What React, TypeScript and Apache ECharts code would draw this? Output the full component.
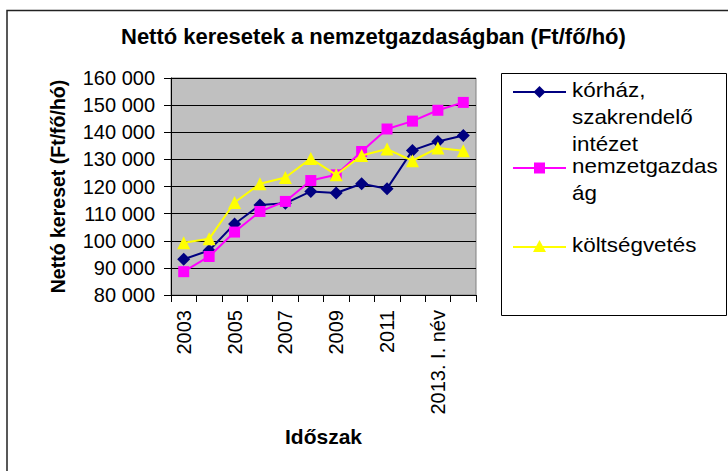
import React, { useEffect, useRef } from "react";
import * as echarts from "echarts";

const categories = ["2003", "2004", "2005", "2006", "2007", "2008", "2009", "2010", "2011", "2012", "2013. I. név", "2013. II. név"];
const korhaz = [93200, 96400, 106200, 113200, 113800, 118200, 117600, 121000, 119200, 133300, 136600, 138800];
const nemzetgazdasag = [88600, 94200, 103200, 110800, 114500, 122200, 124300, 132900, 141200, 144100, 148100, 151000];
const koltsegvetes = [99300, 100700, 114100, 121000, 123300, 130300, 124300, 131400, 133800, 129500, 134200, 133200];
const seriesNames = ["kórház, szakrendelő intézet", "nemzetgazdaság", "költségvetés"];
const legendLines = [["kórház,", "szakrendelő", "intézet"], ["nemzetgazdas", "ág"], ["költségvetés"]];

const FONT = "'Liberation Sans', Arial, sans-serif";

export default function App() {
  const ref = useRef<HTMLDivElement>(null);
  useEffect(() => {
    if (!ref.current) return;
    const chart = echarts.init(ref.current, null, { renderer: "svg" });
    const colors = ["#000080", "#FF00FF", "#FFFF00"];
    const symbols = ["diamond", "rect", "triangle"];
    const sizes = [13, 11, 13];
    const datas = [korhaz, nemzetgazdasag, koltsegvetes];

    const legendTop = [92, 168, 247];
    const legendGraphics: any[] = [
      {
        type: "rect",
        shape: { x: 501.5, y: 73.5, width: 225, height: 242 },
        style: { fill: "#fff", stroke: "#000", lineWidth: 1 },
        z: 10,
      },
    ];
    legendTop.forEach((y, i) => {
      legendGraphics.push({
        type: "line",
        shape: { x1: 513, y1: y, x2: 566, y2: y },
        style: { stroke: colors[i], lineWidth: 2 },
        z: 11,
      });
      if (i === 0) {
        legendGraphics.push({
          type: "polygon",
          shape: { points: [[539.5, y - 6], [545.5, y], [539.5, y + 6], [533.5, y]] },
          style: { fill: colors[i] },
          z: 12,
        });
      } else if (i === 1) {
        legendGraphics.push({
          type: "rect",
          shape: { x: 534, y: y - 5.5, width: 11, height: 11 },
          style: { fill: colors[i] },
          z: 12,
        });
      } else {
        legendGraphics.push({
          type: "polygon",
          shape: { points: [[539.5, y - 7], [546, y + 5], [533, y + 5]] },
          style: { fill: colors[i] },
          z: 12,
        });
      }
      legendLines[i].forEach((t, k) => {
        legendGraphics.push({
          type: "text",
          x: 572,
          y: y - 2 + k * 27,
          scaleX: 1.12,
          style: {
            text: t,
            fill: "#000",
            font: `20px ${FONT}`,
            verticalAlign: "middle",
            align: "left",
          },
          z: 12,
        });
      });
    });

    chart.setOption({
      animation: false,
      backgroundColor: "#fff",
      textStyle: { fontFamily: FONT },
      title: {
        text: "Nettó keresetek a nemzetgazdaságban (Ft/fő/hó)",
        left: 121,
        top: 25,
        padding: 0,
        textStyle: { fontFamily: FONT, fontSize: 22, fontWeight: "bold", color: "#000" },
      },
      grid: {
        left: 171,
        right: 252,
        top: 78,
        bottom: 176,
        show: true,
        backgroundColor: "#C0C0C0",
        borderColor: "#808080",
        borderWidth: 1,
      },
      xAxis: {
        type: "category",
        data: categories,
        boundaryGap: true,
        name: "Időszak",
        nameLocation: "middle",
        nameGap: 131,
        nameTextStyle: { fontFamily: FONT, fontSize: 21, fontWeight: "bold", color: "#000" },
        axisLine: { lineStyle: { color: "#000", width: 1 } },
        axisTick: { show: true, interval: 0, length: 7, lineStyle: { color: "#000" } },
        axisLabel: {
          interval: 1,
          rotate: 90,
          margin: 15,
          fontSize: 20,
          fontFamily: FONT,
          color: "#000",
        },
        splitLine: { show: false },
      },
      yAxis: {
        type: "value",
        min: 80000,
        max: 160000,
        interval: 10000,
        name: "Nettó kereset (Ft/fő/hó)",
        nameLocation: "middle",
        nameGap: 103,
        nameTextStyle: { fontFamily: FONT, fontSize: 19.5, fontWeight: "bold", color: "#000" },
        axisLine: { show: true, lineStyle: { color: "#000", width: 1 } },
        axisTick: { show: true, length: 7, lineStyle: { color: "#000" } },
        axisLabel: {
          margin: 16,
          fontSize: 20,
          fontFamily: FONT,
          color: "#000",
          formatter: (v: number) => String(v).replace(/\B(?=(\d{3})+(?!\d))/g, " "),
        },
        splitLine: { show: true, lineStyle: { color: "#000", width: 1 } },
      },
      series: datas.map((d, i) => ({
        type: "line",
        name: seriesNames[i],
        data: d,
        symbol: symbols[i],
        symbolSize: sizes[i],
        showAllSymbol: true,
        lineStyle: { color: colors[i], width: 2 },
        itemStyle: { color: colors[i] },
        z: 3 + i,
      })),
      graphic: [
        {
          type: "rect",
          shape: { x: 7, y: 10.5, width: 760, height: 520 },
          style: { fill: "none", stroke: "#222", lineWidth: 1.5 },
          z: 1,
          silent: true,
        },
        ...legendGraphics,
      ],
    });
    return () => chart.dispose();
  }, []);
  return (
    <div
      ref={ref}
      style={{ position: "fixed", left: 0, top: 0, width: 728, height: 471 }}
    />
  );
}
